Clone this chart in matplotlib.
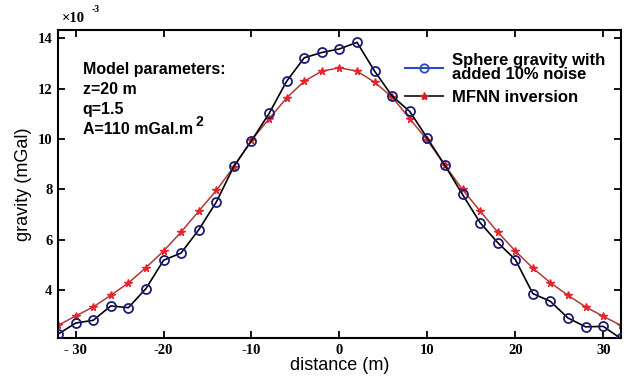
import matplotlib.pyplot as plt
from matplotlib.lines import Line2D
import numpy as np

# distance (m) of the profile points
distance = np.arange(-32, 33, 2)

# sphere gravity with added 10% noise (x1e-3 mGal)
gravity_noisy = [2.26, 2.70, 2.81, 3.38, 3.31, 4.07, 5.19, 5.48, 6.40, 7.50,
                 8.92, 9.93, 11.01, 12.29, 13.22, 13.43, 13.57, 13.83, 12.69,
                 11.70, 11.09, 10.03, 8.95, 7.80, 6.68, 5.89, 5.22, 3.87,
                 3.56, 2.90, 2.55, 2.57, 2.09]

# MFNN inversion result (x1e-3 mGal)
gravity_mfnn = [2.61, 2.98, 3.34, 3.80, 4.29, 4.90, 5.56, 6.31, 7.14, 7.96,
                8.90, 9.95, 10.80, 11.63, 12.29, 12.69, 12.82, 12.69, 12.25,
                11.66, 10.80, 9.95, 8.95, 8.00, 7.14, 6.31, 5.56, 4.88,
                4.30, 3.80, 3.34, 2.97, 2.61]

x_ticks = [-30, -20, -10, 0, 10, 20, 30]
x_tick_labels = ['- 30', '-20', '-10', '0', '10', '20', '30']
y_ticks = [4, 6, 8, 10, 12, 14]

param_lines = ['Model parameters:', 'z=20 m', 'q=1.5', 'A=110 mGal.m']

fig = plt.figure(figsize=(6.38, 3.80), dpi=100)
ax = fig.add_axes([0.091, 0.110, 0.882, 0.811])

# MFNN curve
ax.plot(distance, gravity_mfnn, color='#b03838', lw=1.1, marker='*',
        markersize=5.5, markerfacecolor='#e8242a', markeredgecolor='#e8242a',
        zorder=2)
# noisy sphere gravity
ax.plot(distance, gravity_noisy, color='black', lw=1.2, marker='o',
        markersize=6.5, markerfacecolor='none', markeredgecolor='#1c1c78',
        markeredgewidth=1.3, zorder=3)

ax.set_xlim(-32, 32)
ax.set_ylim(2.1, 14.32)
ax.set_xticks(x_ticks)
ax.set_xticklabels(x_tick_labels)
ax.set_yticks(y_ticks)

ax.tick_params(direction='in', length=5, width=1.3, top=True, right=True,
               labelsize=10.5, pad=4)
for lab in ax.get_xticklabels() + ax.get_yticklabels():
    lab.set_fontfamily('Liberation Serif')
    lab.set_fontweight('bold')
for s in ax.spines.values():
    s.set_linewidth(1.5)

ax.set_xlabel('distance (m)', fontsize=13, family='Liberation Sans', labelpad=0)
ax.set_ylabel('gravity (mGal)', fontsize=13, family='Liberation Sans', labelpad=4)

# scale factor at top left
fig.text(0.097, 0.95, '\u00d710', fontsize=10.5, family='Liberation Serif',
         fontweight='bold', va='center', ha='left')
fig.text(0.143, 0.975, '-3', fontsize=7, family='Liberation Serif',
         fontweight='bold', va='center', ha='left')

# model parameters, one text per line
txt_style = dict(fontsize=11.5, family='Liberation Sans', fontweight='bold')
for i, line in enumerate(param_lines):
    t = ax.text(0.044, 0.895 - i * 0.065, line, transform=ax.transAxes,
                va='top', ha='left', **txt_style)
# squared unit on the last line
ax.annotate('2', xy=(1, 1), xycoords=t, xytext=(1.5, -5),
            textcoords='offset points', fontsize=10, family='Liberation Sans',
            fontweight='bold', va='bottom', ha='left')

handles = [
    Line2D([], [], color='#2a4bc0', lw=1.5, marker='o', markersize=6,
           markerfacecolor='none', markeredgecolor='#2a4bc0', markeredgewidth=1.3),
    Line2D([], [], color='#2a1a1a', lw=1.3, marker='*', markersize=6,
           markerfacecolor='#d02020', markeredgecolor='#d02020'),
]
labels = ['Sphere gravity with\nadded 10% noise', 'MFNN inversion']
leg = ax.legend(handles, labels, loc='upper left', bbox_to_anchor=(0.59, 0.975),
                frameon=False, handlelength=2.3, handletextpad=0.5,
                labelspacing=0.45,
                prop={'family': 'Liberation Sans', 'weight': 'bold', 'size': 12})
for t in leg.get_texts():
    t.set_linespacing(0.95)

fig.savefig('out.png', dpi=100)
